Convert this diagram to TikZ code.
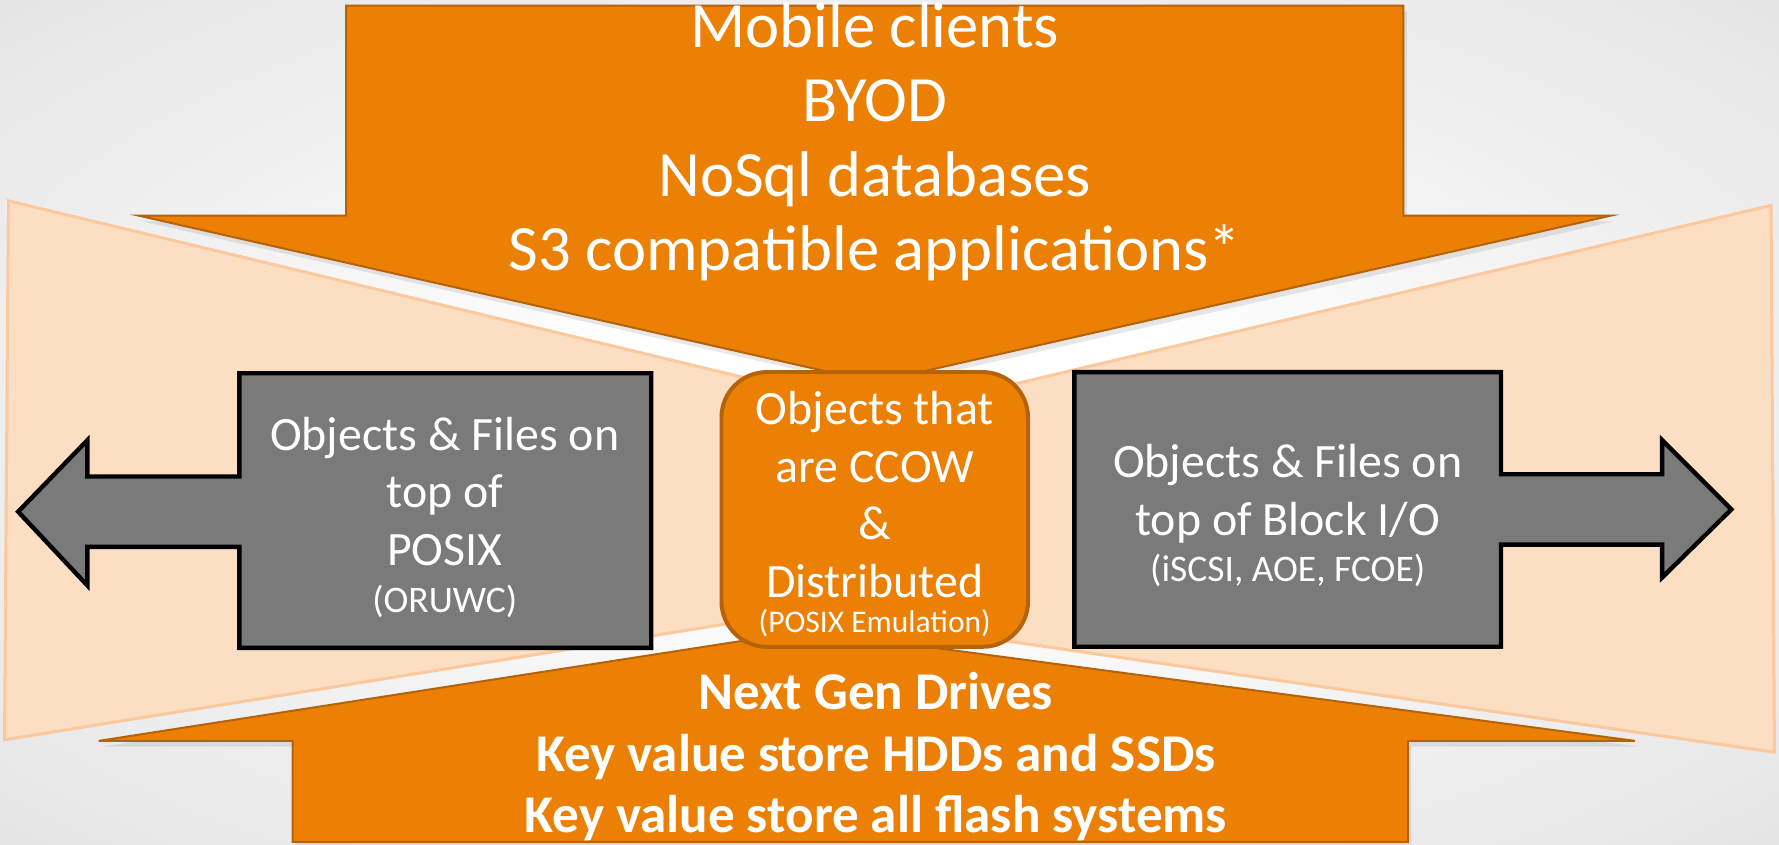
\documentclass[tikz,border=0pt]{standalone}
\usepackage{fontspec}
\setmainfont{Carlito}
\usetikzlibrary{shadows}
\definecolor{orng}{HTML}{EC8004}
\definecolor{orngline}{HTML}{B5620A}
\definecolor{peach}{HTML}{FCDEC2}
\definecolor{peachline}{HTML}{FCC89E}
\definecolor{grayfill}{HTML}{7A7A7A}
\pgfdeclareradialshading{bgshade}{\pgfpoint{0bp}{0bp}}{color(0bp)=(white); color(8bp)=(white); color(71bp)=(black!24)}
\begin{document}
\begin{tikzpicture}[x=0.01cm,y=-0.01cm,
  peachshape/.style={fill=peach,draw=peachline,line width=0.75pt,line join=miter},
  orangearrow/.style={fill=orng,draw=orngline,line width=0.5pt,drop shadow={opacity=0.18,shadow xshift=0.03cm,shadow yshift=-0.05cm}},
  grayarrow/.style={fill=grayfill,draw=black,line width=1.1pt,line join=miter},
  centerbox/.style={fill=orng,draw=orngline,line width=1pt,rounded corners=0.4cm,minimum width=2.7cm,minimum height=2.42cm,inner sep=0pt},
  bigtext/.style={text=white,align=center,inner sep=0pt,font=\fontsize{16.2}{18.7}\selectfont},
  midtext/.style={text=white,align=center,inner sep=0pt,font=\fontsize{12}{14.4}\selectfont},
  smalltext/.style={text=white,align=center,inner sep=0pt,font=\fontsize{9.4}{11}\selectfont},
  boldtext/.style={text=white,align=center,inner sep=0pt,font=\bfseries\fontsize{13.3}{15.4}\selectfont}]
\useasboundingbox (0,0) rectangle (1568,744);
\shade[shading=bgshade] (0,0) rectangle (1568,744);
% peach bow tie
\draw[peachshape] (7.4,177) -- (786,364) -- (1561,181) -- (1564,663) -- (708,539) -- (4,652) -- cycle;
% top orange arrow
\draw[orangearrow] (305,5) -- (1237,5) -- (1237,190) -- (1420,190) -- (771,337) -- (122,190) -- (305,190) -- cycle;
% bottom orange arrow
\draw[orangearrow] (258,742) -- (258,653) -- (87,653) -- (711,556) -- (1441,653) -- (1241,653) -- (1241,742) -- cycle;
% left gray arrow
\draw[grayarrow] (574,329) -- (574,571) -- (211,571) -- (211,482) -- (77,482) -- (77,516) -- (16,451) -- (77,388) -- (77,420) -- (211,420) -- (211,329) -- cycle;
% right gray arrow
\draw[grayarrow] (947,328) -- (1323,328) -- (1323,418) -- (1465,418) -- (1465,388) -- (1526,449) -- (1465,509) -- (1465,480) -- (1323,480) -- (1323,570) -- (947,570) -- cycle;
% center box
\node[centerbox] (ccow) at (771,449) {};
% texts
\node[bigtext] (toptext) at (771,125) {Mobile clients\\BYOD\\NoSql databases\\S3 compatible applications*};
\node[midtext] (ccowtext) at (771,436) {Objects that\\are CCOW\\\&\\Distributed};
\node[smalltext,font=\fontsize{7.9}{9.4}\selectfont] (ccowsmall) at (771,549) {(POSIX Emulation)};
\node[midtext] (lefttext) at (392,433) {Objects \& Files on\\top of\\POSIX};
\node[smalltext] (leftsmall) at (392,530) {(ORUWC)};
\node[midtext] (righttext) at (1135,435) {Objects \& Files on\\top of Block I/O};
\node[smalltext] (rightsmall) at (1135,503) {(iSCSI, AOE, FCOE)};
\node[boldtext] (bottomtext) at (772,667) {Next Gen Drives\\Key value store HDDs and SSDs\\Key value store all flash systems};
\end{tikzpicture}
\end{document}
